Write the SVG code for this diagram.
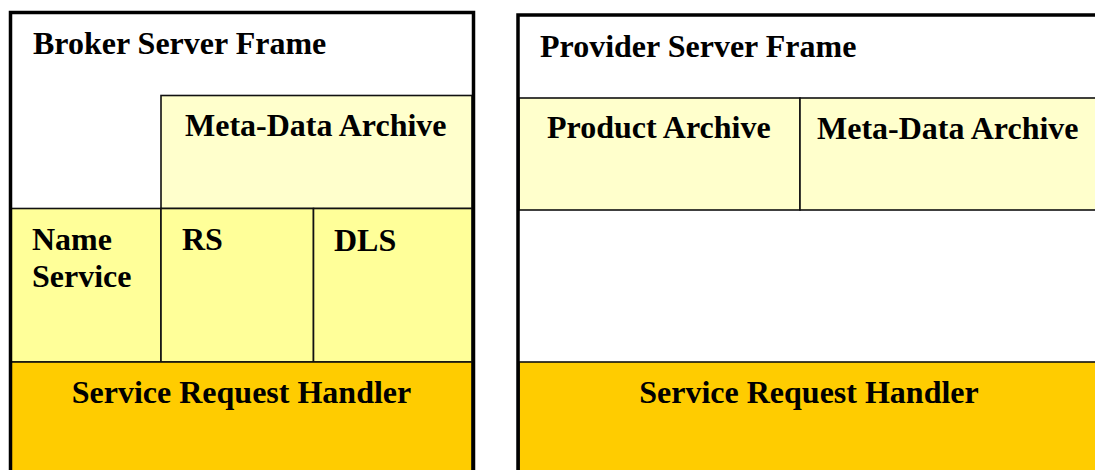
<svg xmlns="http://www.w3.org/2000/svg" width="1095" height="470" viewBox="0 0 1095 470">
  <style>
    .frame { fill: none; stroke: #000; stroke-width: 3.5; }
    .box { stroke: #111; stroke-width: 1.6; }
    .archive { fill: #FFFFCC; }
    .service { fill: #FFFF99; }
    .handler { fill: #FFCC00; }
    text { font-family: "Liberation Serif", "Times New Roman", serif; font-weight: bold; font-size: 32px; fill: #000; }
  </style>
  <rect width="1095" height="470" fill="#fff"/>

  <!-- Broker server -->
  <g id="broker-meta-data-archive">
    <rect class="box archive" x="161" y="95.5" width="311" height="113"/>
    <text x="185" y="136">Meta-Data Archive</text>
  </g>
  <g id="name-service">
    <rect class="box service" x="11" y="208.5" width="150" height="153.5"/>
    <text x="32" y="250">Name</text>
    <text x="32" y="287">Service</text>
  </g>
  <g id="rs">
    <rect class="box service" x="161" y="208.5" width="152.5" height="153.5"/>
    <text x="182" y="250">RS</text>
  </g>
  <g id="dls">
    <rect class="box service" x="313.5" y="208.5" width="158.5" height="153.5"/>
    <text x="334" y="251">DLS</text>
  </g>
  <g id="broker-request-handler">
    <rect class="box handler" x="11" y="362" width="461" height="130"/>
    <text x="241.5" y="403" text-anchor="middle">Service Request Handler</text>
  </g>
  <g id="broker-server-frame">
    <rect class="frame" x="10.5" y="12.5" width="463" height="490"/>
    <text x="33" y="54">Broker Server Frame</text>
  </g>

  <!-- Provider server -->
  <g id="product-archive">
    <rect class="box archive" x="519" y="98" width="281" height="112"/>
    <text x="547" y="138">Product Archive</text>
  </g>
  <g id="provider-meta-data-archive">
    <rect class="box archive" x="800" y="98" width="310" height="112"/>
    <text x="817" y="139">Meta-Data Archive</text>
  </g>
  <g id="provider-request-handler">
    <rect class="box handler" x="519" y="362" width="590" height="130"/>
    <text x="809" y="403" text-anchor="middle">Service Request Handler</text>
  </g>
  <g id="provider-server-frame">
    <rect class="frame" x="518" y="15" width="600" height="490"/>
    <text x="540" y="57">Provider Server Frame</text>
  </g>

  <g id="connectors"/>
</svg>
